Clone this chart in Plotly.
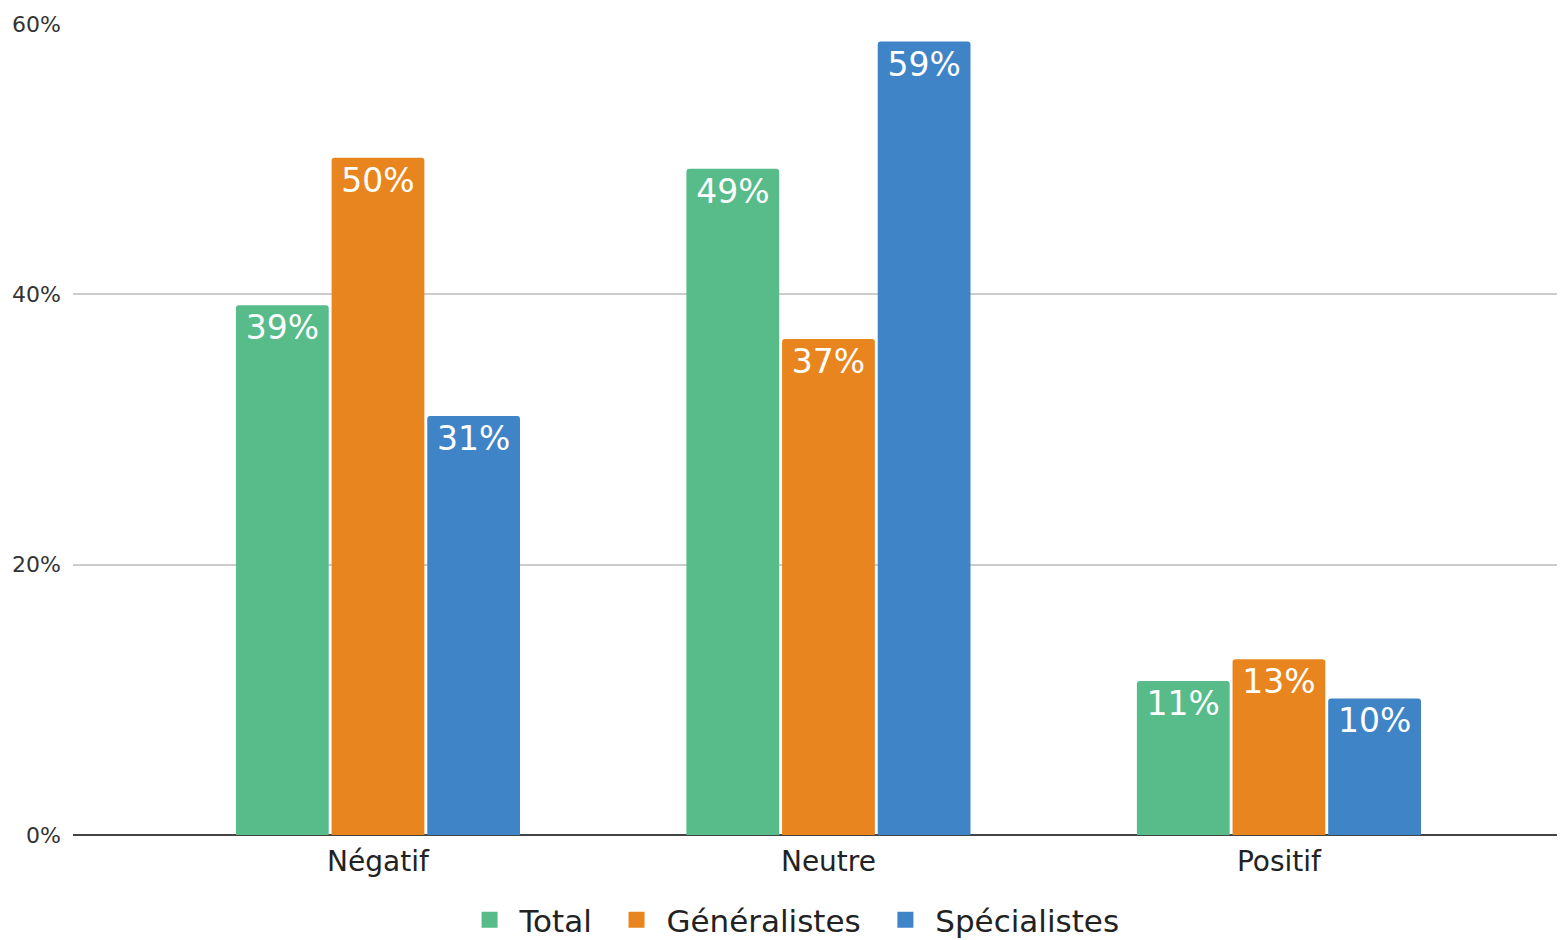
import plotly.graph_objects as go

categories = ["Négatif", "Neutre", "Positif"]
total = [39.2, 49.3, 11.4]
generalistes = [50.1, 36.7, 13.0]
specialistes = [31.0, 58.7, 10.1]

series = [
    ("Total", total, "#57bb8a"),
    ("Généralistes", generalistes, "#e9851e"),
    ("Spécialistes", specialistes, "#3f84c6"),
]

FONT = "DejaVu Sans"
NBSP = "\u00a0"

fig = go.Figure()
for name, vals, color in series:
    fig.add_trace(go.Bar(
        x=categories,
        y=vals,
        name=name,
        showlegend=False,
        marker=dict(color=color, line=dict(width=0)),
        text=[f"{round(v)}%" for v in vals],
        textposition="inside",
        insidetextanchor="end",
        textangle=0,
        constraintext="none",
        textfont=dict(family=FONT, size=33, color="white"),
    ))
    # legend entry with a bigger square swatch
    fig.add_trace(go.Scatter(
        x=[None], y=[None],
        mode="markers",
        name=NBSP + name + NBSP * 2,
        marker=dict(symbol="square", size=22, color=color),
    ))

# page body has an 8px margin, so the figure is sized/offset to compensate
fig.update_layout(
    width=1557,
    height=932,
    margin=dict(l=65, r=0, t=16, b=105, autoexpand=False),
    paper_bgcolor="white",
    plot_bgcolor="white",
    barmode="group",
    bargap=0.363,
    bargroupgap=0.03,
    barcornerradius=3,
    font=dict(family=FONT, color="#222"),
    xaxis=dict(
        range=[-0.677, 2.635],
        showgrid=False,
        ticks="",
        ticklabelstandoff=7,
        tickfont=dict(family=FONT, size=28, color="#222"),
        showline=False,
    ),
    yaxis=dict(
        range=[0, 60],
        tickvals=[0, 20, 40, 60],
        ticktext=["0%", "20%", "40%", "60%"],
        gridcolor="#cccccc",
        gridwidth=2,
        zeroline=True,
        zerolinecolor="#444444",
        zerolinewidth=2,
        ticks="",
        ticklabelstandoff=11,
        tickfont=dict(family=FONT, size=22, color="#333"),
    ),
    legend=dict(
        orientation="h",
        x=0.492,
        xanchor="center",
        y=-0.105,
        yanchor="middle",
        font=dict(family=FONT, size=31, color="#222"),
        itemsizing="trace",
        itemwidth=30,
    ),
)

fig.write_html("out.html")
